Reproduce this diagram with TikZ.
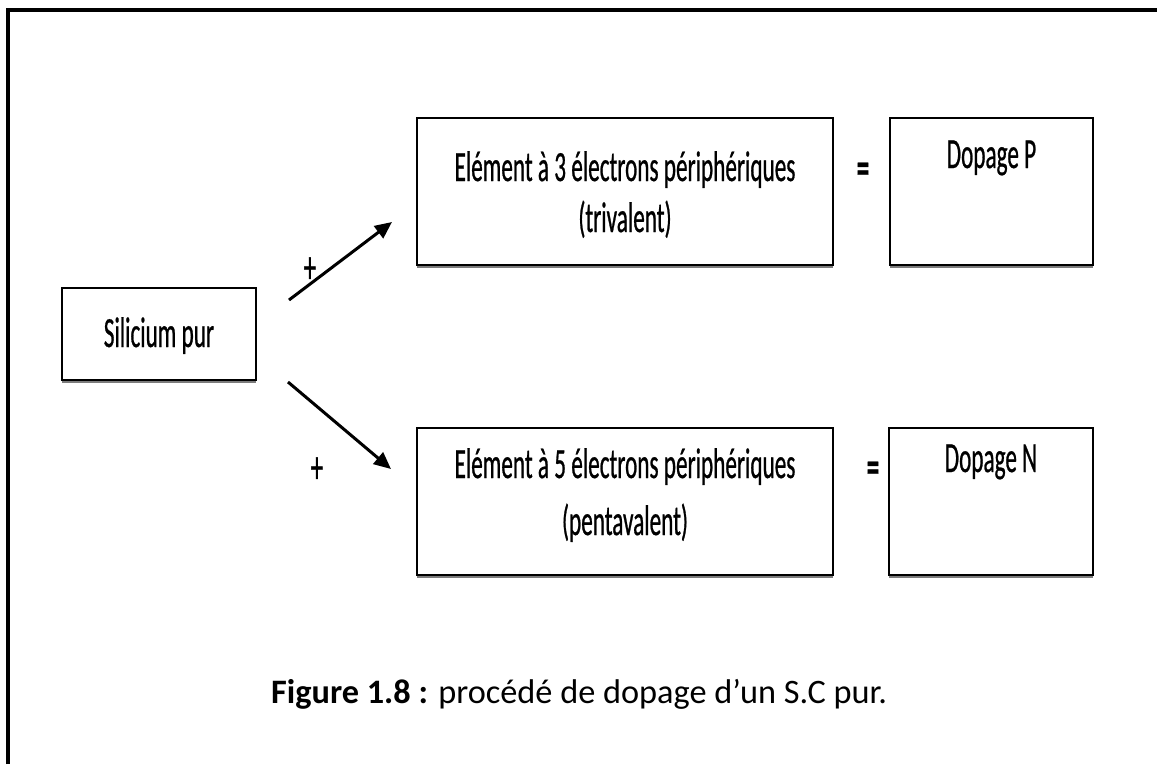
\documentclass[tikz,border=0pt]{standalone}
\usepackage{fontspec}
\setmainfont{Carlito}
\newfontfamily\condfont[FakeStretch=0.54,FakeBold=0.6]{Carlito}
\usetikzlibrary{arrows.meta,shadows}
\begin{document}
\begin{tikzpicture}[x=1pt,y=-1pt,
  box/.style={draw=black, line width=1.5pt, fill=white, minimum height=147pt, inner sep=0pt,
     drop shadow={shadow xshift=0pt, shadow yshift=-2.5pt, fill=black!60, opacity=0.85}},
  txt/.style={font=\condfont\fontsize{43}{50}\selectfont, anchor=base, inner sep=0pt},
  sym/.style={font=\condfont\fontsize{46}{50}\selectfont, inner sep=0pt},
  arr/.style={line width=3pt, -{Triangle[length=17pt,width=15pt]}},
  frame/.style={line width=3.2pt}]
\useasboundingbox (0,0) rectangle (1157,764);
\fill[white] (0,0) rectangle (1157,764);
% outer frame (top and left edges)
\coordinate (fbl) at (8,764);
\coordinate (ftl) at (8,10);
\coordinate (ftr) at (1157,10);
\draw[frame] (fbl) -- (ftl) -- (ftr);
% boxes
\node[box, minimum width=194pt, minimum height=92pt] (sil) at (159,334) {};
\node[box, minimum width=416pt] (e3) at (625,191.5) {};
\node[box, minimum width=203pt] (dp) at (991.5,191.5) {};
\node[box, minimum width=416pt] (e5) at (625,501.5) {};
\node[box, minimum width=204pt] (dn) at (991,501.5) {};
% texts
\node[txt] (silt) at (159,347) {Silicium pur};
\node[txt] (e3a) at (625,181) {Elément à 3 électrons périphériques};
\node[txt] (e3b) at (625,232) {(trivalent)};
\node[txt] (dpt) at (991.5,168) {Dopage P};
\node[txt] (e5a) at (625,478) {Elément à 5 électrons périphériques};
\node[txt] (e5b) at (625,535) {(pentavalent)};
\node[txt] (dnt) at (991,472) {Dopage N};
% symbols
\node[sym] (eq1) at (863,173) {\bfseries =};
\node[sym] (eq2) at (873,472) {\bfseries =};
\node[sym] (pl1) at (310,270) {+};
\node[sym] (pl2) at (317,470) {+};
% arrows
\coordinate (a1s) at (289,300);
\coordinate (a1e) at (392,222);
\coordinate (a2s) at (288,382);
\coordinate (a2e) at (391,469);
\draw[arr] (a1s) -- (a1e);
\draw[arr] (a2s) -- (a2e);
% caption
\node[anchor=base west, inner sep=0pt, font=\fontsize{34.3}{40}\selectfont] (cap) at (271,703)
  {\textbf{Figure 1.8 :} procédé de dopage d’un S.C pur.};
\end{tikzpicture}
\end{document}
